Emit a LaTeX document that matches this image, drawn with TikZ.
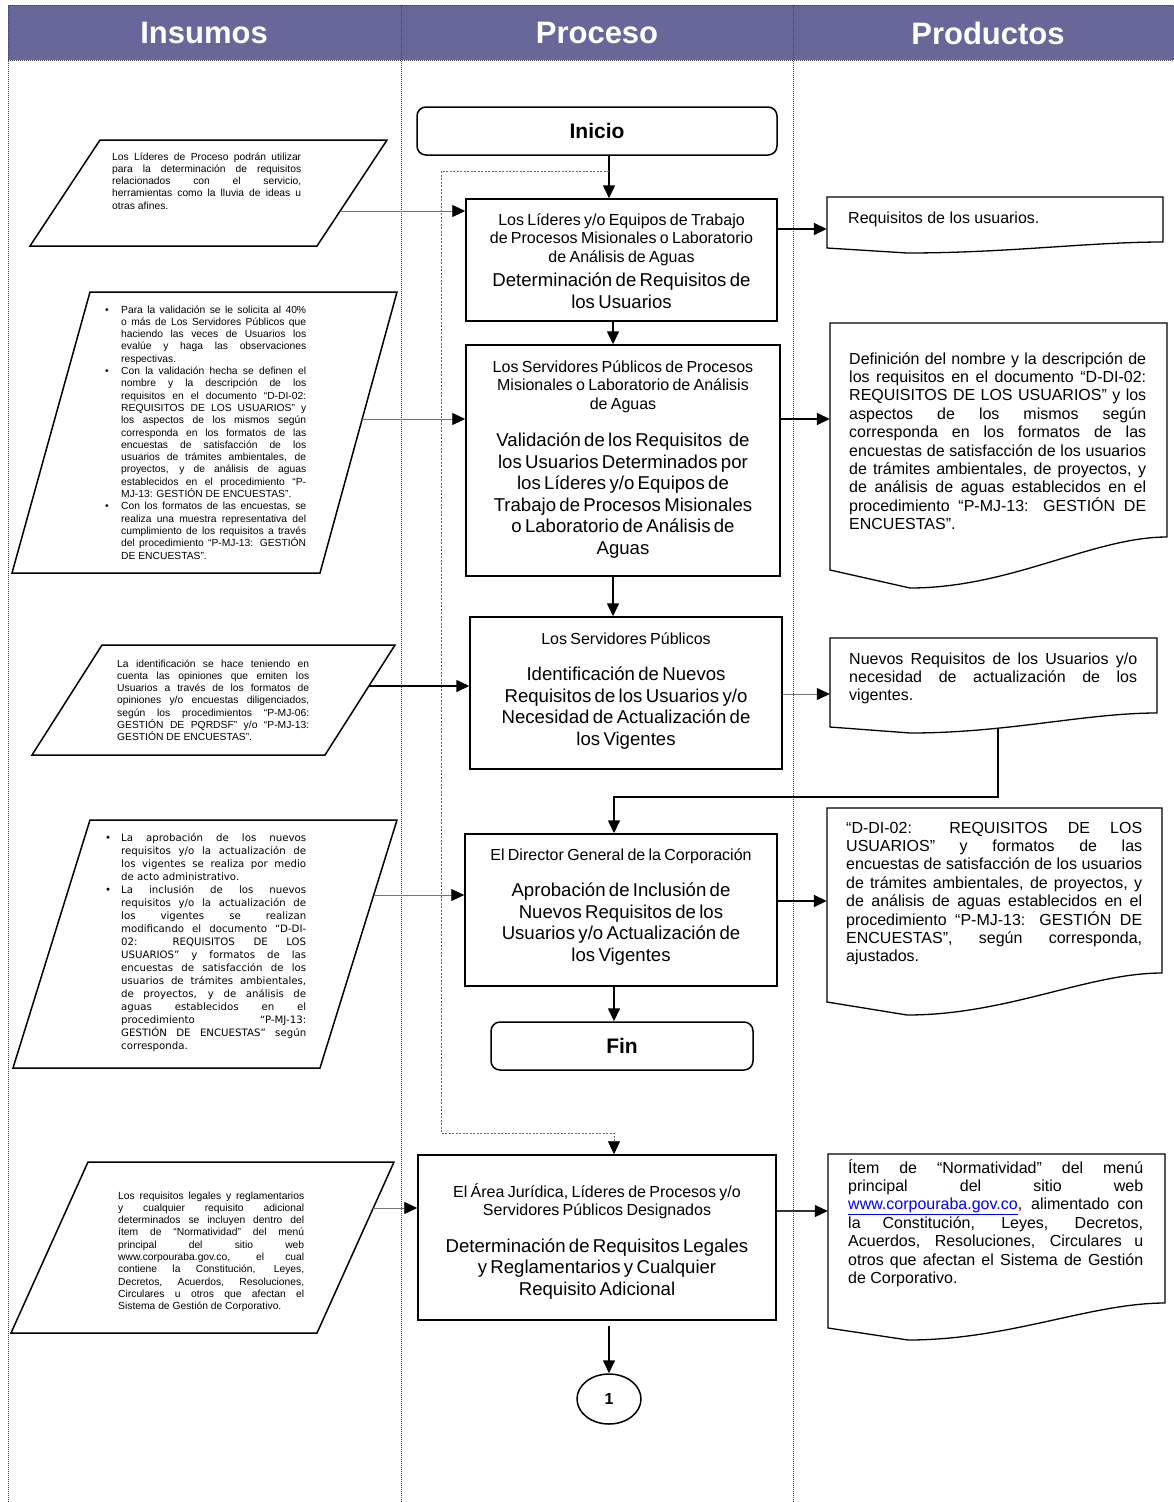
\documentclass[tikz,border=0pt]{standalone}
\usepackage{fontspec}
\setmainfont{Liberation Sans}
\newfontfamily\verdfont{DejaVu Sans}
\usetikzlibrary{arrows.meta,shapes.geometric}
\definecolor{hdrblue}{RGB}{103,104,153}
\definecolor{linkblue}{RGB}{0,0,255}
\newcommand\JL[1]{\hbox to \hsize{#1}}
\newcommand\LL[1]{\hbox{#1}}
\newcommand\BJ[1]{\hbox to \hsize{\llap{\hbox to 16pt{\textbullet\hfil}}#1}}
\newcommand\JT[2]{\vtop{\hsize=#1\relax\parindent=0pt\relax #2}}
\newcommand\docshape[7]{%
  \node[inner sep=0pt,minimum width={#3-#2},minimum height={#5-#4}] (#1) at ({(#2+#3)/2},{(#4+#5)/2}) {};
  \draw[docline] (#2,#4) -- (#3,#4) -- (#3,#6)
    .. controls ({#3-0.22*(#3-#2)},#6) and ({#2+80+0.3*(#3-#2)},#7) .. ({#2+80},#7)
    -- (#2,#5) -- cycle;}
\tikzset{
 lane/.style={draw=black!75, line width=0.7pt, dash pattern=on 0.8pt off 1.2pt},
 procbox/.style={draw, line width=1.5pt, inner sep=0pt},
 termbox/.style={draw, line width=1.5pt, rounded corners=9pt, inner sep=0pt, font=\fontsize{21}{24}\selectfont\bfseries},
 docline/.style={line width=1.3pt},
 pline/.style={line width=1.5pt},
 flowarr/.style={line width=1.6pt, -{Triangle[length=13pt,width=12pt]}},
 thinarr/.style={draw=black!55, line width=0.8pt, -{Triangle[length=13pt,width=12pt,color=black]}},
 fbarr/.style={draw=black!60, line width=0.8pt, dash pattern=on 2pt off 1.5pt, -{Triangle[length=13pt,width=12pt,color=black]}},
 hdrtxt/.style={text=white, inner sep=0pt, font=\fontsize{31}{36}\selectfont\bfseries},
 smalltxt/.style={inner sep=0pt, anchor=base west, font=\fontsize{10.3}{12.3}\selectfont},
 boxtxt/.style={inner sep=0pt, text width=#1, align=center, anchor=base},
 doctxt/.style={inner sep=0pt, anchor=base west, font=\fontsize{16}{18.4}\selectfont},
}
\begin{document}
\begin{tikzpicture}[x=1pt,y=-1pt]
\useasboundingbox (0,0) rectangle (1174,1502);
% header and lanes
\fill[hdrblue] (8,5) rectangle (1174,60);
\draw[lane] (8,5) -- (1174,5);
\draw[lane] (8,60) -- (1174,60);
\draw[lane] (8,5) -- (8,1502);
\draw[lane] (401,5) -- (401,1502);
\draw[lane] (793,5) -- (793,1502);
\node[hdrtxt] (hin) at (204,33) {Insumos};
\node[hdrtxt] (hpr) at (597,33) {Proceso};
\node[hdrtxt] (hpo) at (988,33) {Productos};

% process column
\node[termbox, minimum width=360pt, minimum height=48pt] (ini) at (597,131) {Inicio};
\node[procbox, minimum width=311pt, minimum height=122pt] (b1) at (621.5,260) {};
\node[boxtxt=300pt] (b1t) at (621.5,225) {\fontsize{16}{18.5}\selectfont Los Líderes y/o Equipos de Trabajo\\ de Procesos Misionales o Laboratorio\\ de Análisis de Aguas\par\vspace{3pt}\fontsize{18.6}{21.5}\selectfont Determinación de Requisitos de\\ los Usuarios\par};

\node[procbox, minimum width=314pt, minimum height=231pt] (b2) at (623,460.5) {};
\node[boxtxt=304pt] (b2t) at (623,372) {\fontsize{16}{18.5}\selectfont Los Servidores Públicos de Procesos\\ Misionales o Laboratorio de Análisis\\ de Aguas\par\vspace{16pt}\fontsize{18.6}{21.5}\selectfont Validación de los Requisitos~ de\\ los Usuarios Determinados por\\ los Líderes y/o Equipos de\\ Trabajo de Procesos Misionales\\ o Laboratorio de Análisis de\\ Aguas\par};

\node[procbox, minimum width=312pt, minimum height=152pt] (b3) at (626,693) {};
\node[boxtxt=302pt] (b3t) at (626,644) {\fontsize{16}{18.5}\selectfont Los Servidores Públicos\par\vspace{15pt}\fontsize{18.6}{21.5}\selectfont Identificación de Nuevos\\ Requisitos de los Usuarios y/o\\ Necesidad de Actualización de\\ los Vigentes\par};

\node[procbox, minimum width=312pt, minimum height=152pt] (b4) at (621,910) {};
\node[boxtxt=302pt] (b4t) at (621,860) {\fontsize{16}{18.5}\selectfont El Director General de la Corporación\par\vspace{15pt}\fontsize{18.6}{21.5}\selectfont Aprobación de Inclusión de\\ Nuevos Requisitos de los\\ Usuarios y/o Actualización de\\ los Vigentes\par};

\node[termbox, minimum width=262pt, minimum height=48pt] (fin) at (622,1046) {Fin};

\node[procbox, minimum width=358pt, minimum height=165pt] (b5) at (597,1237.5) {};
\node[boxtxt=348pt] (b5t) at (597,1197) {\fontsize{16}{18.5}\selectfont El Área Jurídica, Líderes de Procesos y/o\\ Servidores Públicos Designados\par\vspace{15pt}\fontsize{18.6}{21.5}\selectfont Determinación de Requisitos Legales\\ y Reglamentarios y Cualquier\\ Requisito Adicional\par};

\node[draw, ellipse, line width=1.5pt, minimum width=64pt, minimum height=50pt, inner sep=0pt, font=\fontsize{16}{18}\selectfont\bfseries] (c1) at (609,1399) {1};

% vertical connectors
\coordinate (x609) at (609,0);
\coordinate (x613) at (613,0);
\coordinate (x614) at (614,0);
\draw[flowarr] (ini.south -| x609) -- (b1.north -| x609);
\draw[flowarr] (b1.south -| x613) -- (b2.north -| x613);
\draw[flowarr] (b2.south -| x613) -- (b3.north -| x613);
\draw[flowarr] (b4.south -| x614) -- (fin.north -| x614);
\draw[flowarr, shorten <=5pt] (b5.south -| c1) -- (c1.north);
\coordinate (fbs) at (609,171);
\coordinate (fbc) at (441,1133);
\coordinate (fbd) at (614,1133);
\draw[fbarr] (fbs) -| (fbc) -- (fbd) -- (fbd |- b5.north);

% input parallelograms
\draw[pline] (100,140) -- (387,140) -- (317,246) -- (30,246) -- cycle;
\node[smalltxt] (p1t) at (112,160) {\JT{189pt}{%
\JL{Los Líderes de Proceso podrán utilizar}
\JL{para la determinación de requisitos}
\JL{relacionados con el servicio,}
\JL{herramientas como la lluvia de ideas u}
\LL{otras afines.}}};

\draw[pline] (90,292) -- (397,292) -- (320,573) -- (12,573) -- cycle;
\node[smalltxt] (p2t) at (121,313) {\JT{185pt}{%
\BJ{Para la validación se le solicita al 40\%}
\JL{o más de Los Servidores Públicos que}
\JL{haciendo las veces de Usuarios los}
\JL{evalúe y haga las observaciones}
\LL{respectivas.}
\BJ{Con la validación hecha se definen el}
\JL{nombre y la descripción de los}
\JL{requisitos en el documento “D-DI-02:}
\JL{REQUISITOS DE LOS USUARIOS” y}
\JL{los aspectos de los mismos según}
\JL{corresponda en los formatos de las}
\JL{encuestas de satisfacción de los}
\JL{usuarios de trámites ambientales, de}
\JL{proyectos, y de análisis de aguas}
\JL{establecidos en el procedimiento “P-}
\LL{MJ-13: GESTIÓN DE ENCUESTAS”.}
\BJ{Con los formatos de las encuestas, se}
\JL{realiza una muestra representativa del}
\JL{cumplimiento de los requisitos a través}
\JL{del procedimiento “P-MJ-13: GESTIÓN}
\LL{DE ENCUESTAS”.}}};

\draw[pline] (102,645) -- (395,645) -- (325,755) -- (32,755) -- cycle;
\node[smalltxt] (p3t) at (117,667) {\JT{192pt}{%
\JL{La identificación se hace teniendo en}
\JL{cuenta las opiniones que emiten los}
\JL{Usuarios a través de los formatos de}
\JL{opiniones y/o encuestas diligenciados,}
\JL{según los procedimientos “P-MJ-06:}
\JL{GESTIÓN DE PQRDSF” y/o “P-MJ-13:}
\LL{GESTIÓN DE ENCUESTAS”.}}};

\draw[pline] (90,820) -- (397,820) -- (320,1068) -- (13,1068) -- cycle;
\node[smalltxt, font=\verdfont\fontsize{10.2}{13}\selectfont] (p4t) at (121,841) {\JT{185pt}{%
\BJ{La aprobación de los nuevos}
\JL{requisitos y/o la actualización de}
\JL{los vigentes se realiza por medio}
\LL{de acto administrativo.}
\BJ{La inclusión de los nuevos}
\JL{requisitos y/o la actualización de}
\JL{los vigentes se realizan}
\JL{modificando el documento “D-DI-}
\JL{02: REQUISITOS DE LOS}
\JL{USUARIOS” y formatos de las}
\JL{encuestas de satisfacción de los}
\JL{usuarios de trámites ambientales,}
\JL{de proyectos, y de análisis de}
\JL{aguas establecidos en el}
\JL{procedimiento “P-MJ-13:}
\JL{GESTIÓN DE ENCUESTAS” según}
\LL{corresponda.}}};

\draw[pline] (88,1162) -- (394,1162) -- (317,1333) -- (11,1333) -- cycle;
\node[smalltxt] (p5t) at (118,1199) {\JT{186pt}{%
\JL{Los requisitos legales y reglamentarios}
\JL{y cualquier requisito adicional}
\JL{determinados se incluyen dentro del}
\JL{ítem de “Normatividad” del menú}
\JL{principal del sitio web}
\JL{www.corpouraba.gov.co, el cual}
\JL{contiene la Constitución, Leyes,}
\JL{Decretos, Acuerdos, Resoluciones,}
\JL{Circulares u otros que afectan el}
\LL{Sistema de Gestión de Corporativo.}}};

% input arrows
\coordinate (p1o) at (340,211);
\coordinate (p2o) at (362,419);
\coordinate (p3o) at (369,686);
\coordinate (p4o) at (374,895);
\coordinate (p5o) at (373,1208);
\draw[thinarr] (p1o) -- (b1.west |- p1o);
\draw[thinarr] (p2o) -- (b2.west |- p2o);
\draw[flowarr] (p3o) -- (b3.west |- p3o);
\draw[thinarr] (p4o) -- (b4.west |- p4o);
\draw[thinarr] (p5o) -- (b5.west |- p5o);

% output documents
\docshape{D1}{827}{1163}{197}{248}{242}{253}
\node[doctxt] (d1t) at (848,223) {\LL{Requisitos de los usuarios.}};

\docshape{D2}{830}{1167}{323}{570}{537}{588}
\node[doctxt] (d2t) at (849,364) {\JT{297pt}{%
\JL{Definición del nombre y la descripción de}
\JL{los requisitos en el documento “D-DI-02:}
\JL{REQUISITOS DE LOS USUARIOS” y los}
\JL{aspectos de los mismos según}
\JL{corresponda en los formatos de las}
\JL{encuestas de satisfacción de los usuarios}
\JL{de trámites ambientales, de proyectos, y}
\JL{de análisis de aguas establecidos en el}
\JL{procedimiento “P-MJ-13: GESTIÓN DE}
\LL{ENCUESTAS”.}}};

\docshape{D3}{830}{1157}{638}{727}{713}{733}
\node[doctxt] (d3t) at (849,664) {\JT{288pt}{%
\JL{Nuevos Requisitos de los Usuarios y/o}
\JL{necesidad de actualización de los}
\LL{vigentes.}}};

\docshape{D4}{827}{1162}{808}{1002}{973}{1015}
\node[doctxt] (d4t) at (846,833) {\JT{296pt}{%
\JL{“D-DI-02: REQUISITOS DE LOS}
\JL{USUARIOS” y formatos de las}
\JL{encuestas de satisfacción de los usuarios}
\JL{de trámites ambientales, de proyectos, y}
\JL{de análisis de aguas establecidos en el}
\JL{procedimiento “P-MJ-13: GESTIÓN DE}
\JL{ENCUESTAS”, según corresponda,}
\LL{ajustados.}}};

\docshape{D5}{828}{1165}{1154}{1328}{1303}{1340}
\node[doctxt] (d5t) at (848,1173) {\JT{295pt}{%
\JL{Ítem de “Normatividad” del menú}
\JL{principal del sitio web}
\JL{\textcolor{linkblue}{\underline{www.corpouraba.gov.co}}, alimentado con}
\JL{la Constitución, Leyes, Decretos,}
\JL{Acuerdos, Resoluciones, Circulares u}
\JL{otros que afectan el Sistema de Gestión}
\LL{de Corporativo.}}};

% output arrows
\coordinate (r1) at (0,229);
\coordinate (r2) at (0,419);
\coordinate (r3) at (0,694);
\coordinate (r4) at (0,901);
\coordinate (r5) at (0,1211);
\draw[flowarr] (b1.east |- r1) -- (D1.west |- r1);
\draw[flowarr] (b2.east |- r2) -- (D2.west |- r2);
\draw[thinarr] (b3.east |- r3) -- (D3.west |- r3);
\draw[flowarr] (b4.east |- r4) -- (D4.west |- r4);
\draw[thinarr, line width=1.1pt, draw=black!80] (b5.east |- r5) -- (D5.west |- r5);

% from D3 to box 4
\coordinate (d3out) at (998,729);
\coordinate (b4in) at (614,797);
\draw[flowarr] (d3out) |- (b4in) -- (b4in |- b4.north);
\end{tikzpicture}
\end{document}
